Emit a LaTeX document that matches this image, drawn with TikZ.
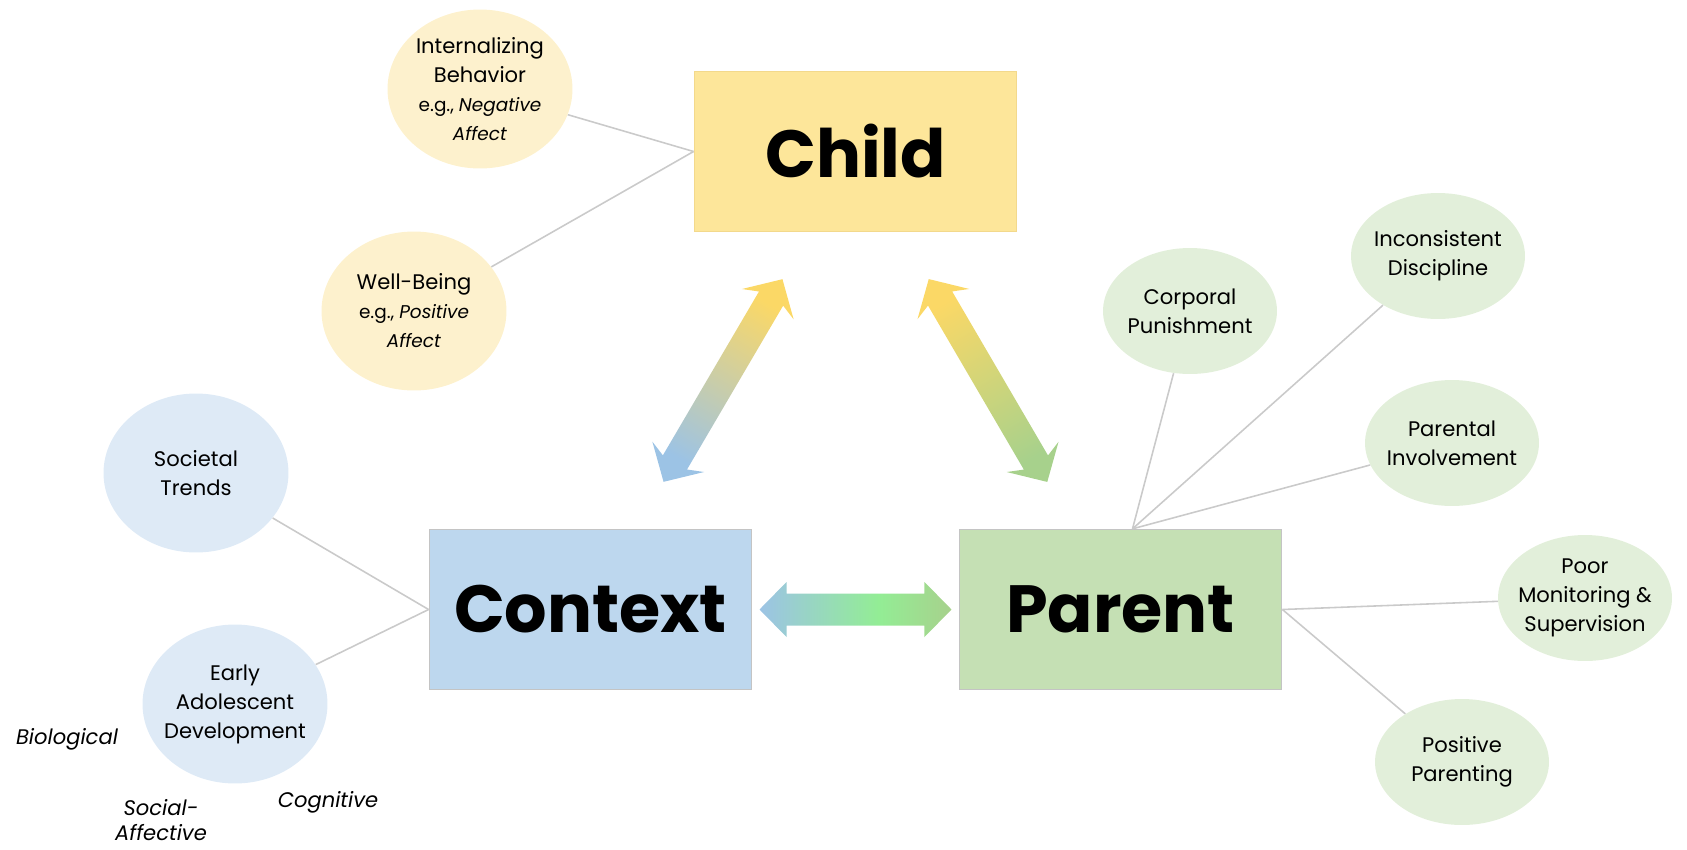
\documentclass[tikz,border=0pt]{standalone}
\usepackage{fontspec}
\setmainfont{Poppins}
\usetikzlibrary{shapes.geometric,calc}

\definecolor{childfill}{HTML}{FDE69A}
\definecolor{childline}{HTML}{F3D98C}
\definecolor{ctxfill}{HTML}{BDD7EE}
\definecolor{parfill}{HTML}{C5E0B4}
\definecolor{boxline}{HTML}{C4C4C4}
\definecolor{ylwbub}{HTML}{FDF1CD}
\definecolor{bluebub}{HTML}{DEEAF6}
\definecolor{grnbub}{HTML}{E2EFDA}
\definecolor{linkgray}{HTML}{CACACA}
\definecolor{arrylw}{HTML}{FBD866}
\definecolor{arrcream}{HTML}{FBF0CF}
\definecolor{arrblue}{HTML}{9CC3E5}
\definecolor{arrgrn}{HTML}{A7D18C}
\definecolor{arrolive}{HTML}{DCDD90}
\definecolor{arrmint}{HTML}{93ED95}

\pgfdeclarehorizontalshading{ctxpar}{100bp}{color(0bp)=(arrblue); color(25bp)=(arrblue); color(56bp)=(arrmint); color(75bp)=(arrgrn); color(100bp)=(arrgrn)}

\newcommand{\egfont}{\fontsize{10.5}{13}\selectfont}

\begin{document}
\begin{tikzpicture}[x=0.02cm, y=-0.02cm,
	bigbox/.style={draw=boxline, line width=0.8pt, minimum width=6.45cm, minimum height=3.2cm, font=\fontsize{38}{40}\selectfont\bfseries},
	bubble/.style={ellipse, minimum width=3.7cm, minimum height=3.18cm, inner sep=-12pt, align=center, font=\fontsize{12}{16.5}\selectfont},
	smbubble/.style={bubble, fill=grnbub, minimum width=3.48cm, minimum height=2.52cm},
	link/.style={draw=linkgray, line width=0.9pt},
	aside/.style={font=\fontsize{12}{14}\selectfont\itshape, align=center},
	barbarrow/.style={insert path={(2.35cm,0) -- (1.77cm,0.6cm) -- (1.9cm,0.28cm) -- (-1.9cm,0.28cm) -- (-1.77cm,0.6cm) -- (-2.35cm,0) -- (-1.77cm,-0.6cm) -- (-1.9cm,-0.28cm) -- (1.9cm,-0.28cm) -- (1.77cm,-0.6cm) -- cycle}}]
\useasboundingbox (0,0) rectangle (1687,849);

% the three main boxes
\node[bigbox, fill=childfill, draw=childline] (child) at (855.5,151.5) {Child};
\node[bigbox, fill=ctxfill] (context) at (590.5,609.5) {Context};
\node[bigbox, fill=parfill] (parent) at (1120.5,609.5) {Parent};

% child outcomes
\node[bubble, fill=ylwbub] (internal) at (480,89) {Internalizing\\Behavior\\\egfont e.g., \textit{Negative}\\\egfont\textit{Affect}};
\node[bubble, fill=ylwbub] (wellbeing) at (414,311) {Well-Being\\\egfont e.g., \textit{Positive}\\\egfont\textit{Affect}};

% context
\node[bubble, fill=bluebub] (societal) at (196,473) {Societal\\Trends};
\node[bubble, fill=bluebub] (earlydev) at (235,704) {Early\\Adolescent\\Development};
\node[aside] (biolog) at (67,739) {Biological};
\node[aside] (socaff) at (161,820) {Social-\\Affective};
\node[aside] (cognit) at (328,802) {Cognitive};

% parenting
\node[smbubble] (corporal) at (1190,311) {Corporal\\Punishment};
\node[smbubble] (inconsist) at (1438,256) {Inconsistent\\Discipline};
\node[smbubble] (involve) at (1452,443) {Parental\\Involvement};
\node[smbubble] (monitor) at (1585,598) {Poor\\Monitoring \&\\Supervision};
\node[smbubble] (pospar) at (1462,762) {Positive\\Parenting};

% links
\draw[link] (internal) -- (child.west);
\draw[link] (wellbeing) -- (child.west);
\draw[link] (societal) -- (context.west);
\draw[link] (earlydev) -- (context.west);
\coordinate (hub) at ([xshift=0.24cm]parent.north);
\foreach \b in {corporal, inconsist, involve}
	\draw[link] (\b) -- (hub);
\draw[link] (parent.east) -- (monitor);
\draw[link] (parent.east) -- (pospar);

% two-way arrows
\begin{scope}[shift={($(context.north)!0.5!(child.south)$)}, rotate=59.6]
	\shade[barbarrow, top color=arrylw, middle color=arrcream, bottom color=arrblue, shading angle=-30.4];
\end{scope}
\begin{scope}[shift={($(parent.north)!0.5!(child.south)$)}, rotate=120.3]
	\shade[barbarrow, top color=arrylw, middle color=arrolive, bottom color=arrgrn, shading angle=30.3];
\end{scope}
\begin{scope}[shift={($(context.east)!0.5!(parent.west)$)}]
	\shade[shading=ctxpar] (1.92cm,0) -- (1.38cm,0.55cm) -- (1.38cm,0.32cm) -- (-1.38cm,0.32cm) -- (-1.38cm,0.55cm) -- (-1.92cm,0) -- (-1.38cm,-0.55cm) -- (-1.38cm,-0.32cm) -- (1.38cm,-0.32cm) -- (1.38cm,-0.55cm) -- cycle;
\end{scope}
\end{tikzpicture}
\end{document}
